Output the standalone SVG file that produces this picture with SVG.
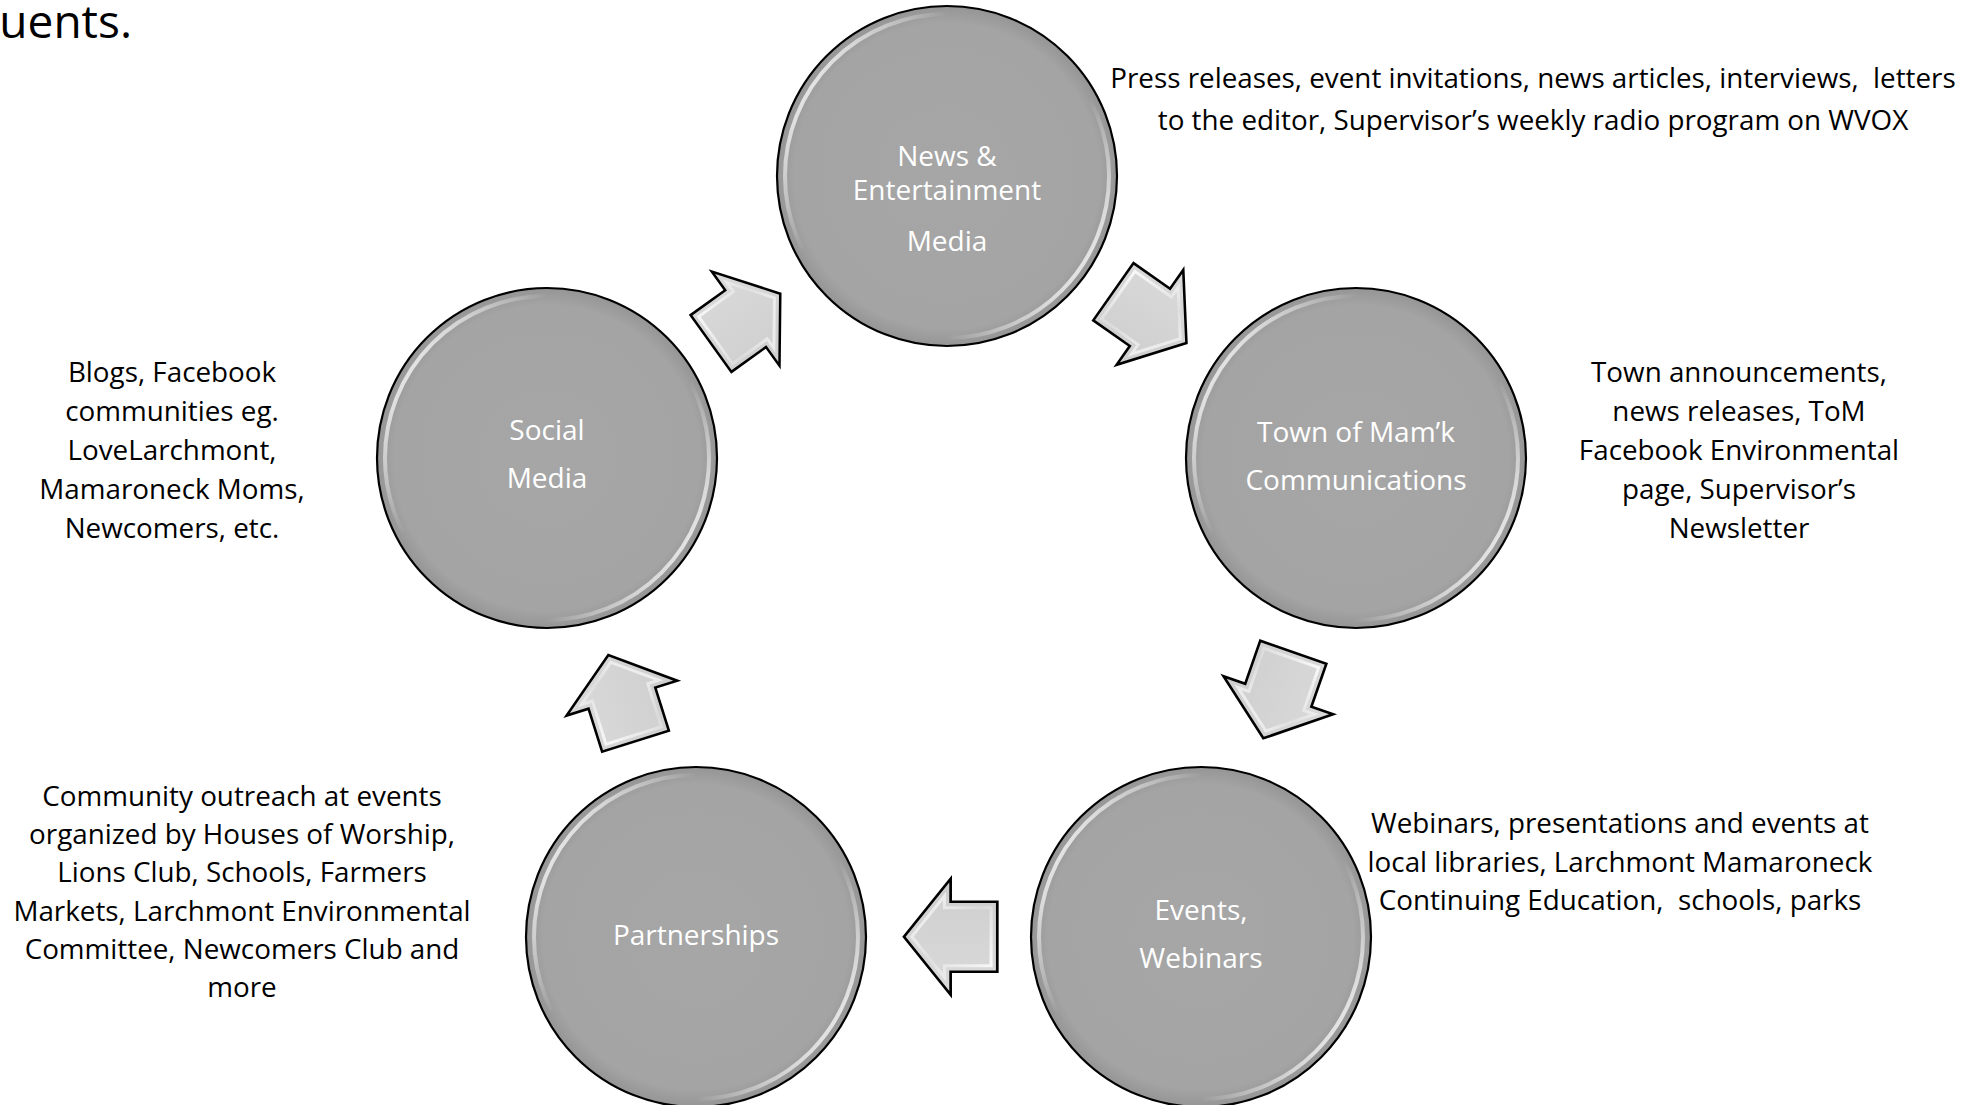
<svg xmlns="http://www.w3.org/2000/svg" xmlns:xlink="http://www.w3.org/1999/xlink" width="1977" height="1105" viewBox="0 0 1977 1105">
<style>
.node-circle{fill:url(#circFill);stroke:#000;stroke-width:2.2}
.ring{fill:none;stroke:url(#ringGrad);stroke-width:4}
.ctext{font-family:"Open Sans","Noto Sans",sans-serif;font-size:28px;fill:#ffffff;text-anchor:middle}
.dtext{font-family:"Open Sans","Noto Sans",sans-serif;font-size:27.8px;fill:#000000;text-anchor:middle}
.arrow-body{fill:url(#arrFill);stroke:#000;stroke-width:2.6;stroke-linejoin:miter}
.arrow-bevel{fill:none;stroke:url(#bevelGrad);stroke-width:3}
</style>
<defs>
<radialGradient id="circFill" cx="0.5" cy="0.5" r="0.5">
<stop offset="0" stop-color="#a6a6a6"/>
<stop offset="0.9" stop-color="#a4a4a4"/>
<stop offset="1" stop-color="#959595"/>
</radialGradient>
<linearGradient id="ringGrad" x1="0" y1="0.2" x2="1" y2="0.8">
<stop offset="0" stop-color="#ffffff" stop-opacity="0.95"/>
<stop offset="0.28" stop-color="#ffffff" stop-opacity="0"/>
<stop offset="0.72" stop-color="#ffffff" stop-opacity="0"/>
<stop offset="1" stop-color="#ffffff" stop-opacity="0.95"/>
</linearGradient>
<linearGradient id="arrFill" x1="0" y1="0" x2="0" y2="1">
<stop offset="0" stop-color="#dadada"/>
<stop offset="1" stop-color="#cecece"/>
</linearGradient>
<linearGradient id="bevelGrad" x1="0" y1="0" x2="1" y2="1">
<stop offset="0" stop-color="#ffffff" stop-opacity="0.9"/>
<stop offset="0.5" stop-color="#ffffff" stop-opacity="0.2"/>
<stop offset="1" stop-color="#ffffff" stop-opacity="0.9"/>
</linearGradient>
<path id="arr" d="M0,-35 L45,-35 L45,-58 L90,0 L45,58 L45,35 L0,35 Z"/>
<path id="arrIn" d="M6,-29 L51,-29 L51,-40.5 L82.4,0 L51,40.5 L51,29 L6,29 Z"/>
</defs>
<rect x="0" y="0" width="1977" height="1105" fill="#ffffff"/>

<text x="132" y="38" font-family="Open Sans, sans-serif" font-size="46" fill="#000" text-anchor="end">uents.</text>

<g id="connectors">
<g id="arrow-social-news" transform="translate(711,343.5) rotate(-35.7) scale(0.948,1)">
<use xlink:href="#arr" class="arrow-body"/><use xlink:href="#arrIn" class="arrow-bevel"/>
</g>
<g id="arrow-news-town" transform="translate(1113.4,291.7) rotate(35.1) scale(0.992,1)">
<use xlink:href="#arr" class="arrow-body"/><use xlink:href="#arrIn" class="arrow-bevel"/>
</g>
<g id="arrow-town-events" transform="translate(1293.3,652.2) rotate(109.2) scale(1.013,1)">
<use xlink:href="#arr" class="arrow-body"/><use xlink:href="#arrIn" class="arrow-bevel"/>
</g>
<g id="arrow-events-partnerships" transform="translate(997.3,936.7) rotate(180) scale(1.037,1)">
<use xlink:href="#arr" class="arrow-body"/><use xlink:href="#arrIn" class="arrow-bevel"/>
</g>
<g id="arrow-partnerships-social" transform="translate(635.5,741.2) rotate(-107.5) scale(1.004,1)">
<use xlink:href="#arr" class="arrow-body"/><use xlink:href="#arrIn" class="arrow-bevel"/>
</g>
</g>

<g id="node-news">
<circle class="node-circle" cx="947" cy="176" r="170"/>
<circle class="ring" cx="947" cy="176" r="162"/>
<text class="ctext" x="947" y="166">News &amp;</text>
<text class="ctext" x="947" y="200">Entertainment</text>
<text class="ctext" x="947" y="251">Media</text>
</g>

<g id="node-town">
<circle class="node-circle" cx="1356" cy="458" r="170"/>
<circle class="ring" cx="1356" cy="458" r="162"/>
<text class="ctext" x="1356" y="442">Town of Mam’k</text>
<text class="ctext" x="1356" y="490">Communications</text>
</g>

<g id="node-events">
<circle class="node-circle" cx="1201" cy="937" r="170"/>
<circle class="ring" cx="1201" cy="937" r="162"/>
<text class="ctext" x="1201" y="920">Events,</text>
<text class="ctext" x="1201" y="968">Webinars</text>
</g>

<g id="node-partnerships">
<circle class="node-circle" cx="696" cy="937" r="170"/>
<circle class="ring" cx="696" cy="937" r="162"/>
<text class="ctext" x="696" y="945">Partnerships</text>
</g>

<g id="node-social">
<circle class="node-circle" cx="547" cy="458" r="170"/>
<circle class="ring" cx="547" cy="458" r="162"/>
<text class="ctext" x="547" y="440">Social</text>
<text class="ctext" x="547" y="488">Media</text>
</g>

<g id="label-news">
<text class="dtext" x="1533" y="88" xml:space="preserve">Press releases, event invitations, news articles, interviews,  letters</text>
<text class="dtext" x="1533" y="130">to the editor, Supervisor’s weekly radio program on WVOX</text>
</g>

<g id="label-town">
<text class="dtext" x="1739" y="382">Town announcements,</text>
<text class="dtext" x="1739" y="421">news releases, ToM</text>
<text class="dtext" x="1739" y="460">Facebook Environmental</text>
<text class="dtext" x="1739" y="499">page, Supervisor’s</text>
<text class="dtext" x="1739" y="538">Newsletter</text>
</g>

<g id="label-events">
<text class="dtext" x="1620" y="833">Webinars, presentations and events at</text>
<text class="dtext" x="1620" y="872">local libraries, Larchmont Mamaroneck</text>
<text class="dtext" x="1620" y="910" xml:space="preserve">Continuing Education,  schools, parks</text>
</g>

<g id="label-partnerships">
<text class="dtext" x="242" y="806">Community outreach at events</text>
<text class="dtext" x="242" y="844">organized by Houses of Worship,</text>
<text class="dtext" x="242" y="882">Lions Club, Schools, Farmers</text>
<text class="dtext" x="242" y="921">Markets, Larchmont Environmental</text>
<text class="dtext" x="242" y="959">Committee, Newcomers Club and</text>
<text class="dtext" x="242" y="997">more</text>
</g>

<g id="label-social">
<text class="dtext" x="172" y="382">Blogs, Facebook</text>
<text class="dtext" x="172" y="421">communities eg.</text>
<text class="dtext" x="172" y="460">LoveLarchmont,</text>
<text class="dtext" x="172" y="499">Mamaroneck Moms,</text>
<text class="dtext" x="172" y="538">Newcomers, etc.</text>
</g>
</svg>
